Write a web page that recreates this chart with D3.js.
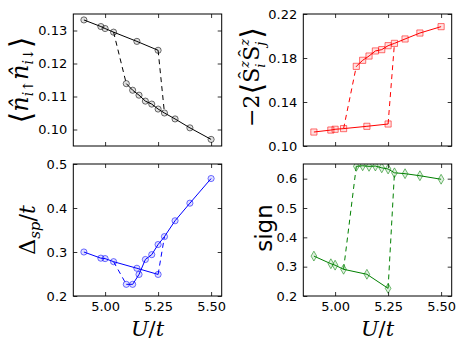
<!DOCTYPE html>
<html>
<head>
<meta charset="utf-8">
<script src="https://cdn.jsdelivr.net/npm/d3@7"></script>
<style>
  body { margin: 0; background: #fff; }
  svg { display: block; }
  .tick text { font-family: "DejaVu Sans", sans-serif; font-size: 13px; fill: #000; }
  .math { font-family: "DejaVu Serif", serif; }
</style>
</head>
<body>
<svg id="chart"></svg>
<script>
const width = 463;
const height = 349;

// U/t values: first branch (low U side) and second branch (high U side)
const uUp = [4.90, 4.98, 5.00, 5.04, 5.15, 5.25];
const uLow = [5.10, 5.13, 5.16, 5.19, 5.22, 5.25, 5.28, 5.33, 5.40, 5.50];
const xTicks = [5.00, 5.25, 5.50];

// double occupancy
const dblUp = [0.1332, 0.1312, 0.1306, 0.1295, 0.1267, 0.1240];
const dblLow = [0.1139, 0.1119, 0.1104, 0.1086, 0.1077, 0.1062, 0.1050, 0.1032, 0.1005, 0.0970];
// spin correlation
const spinUp = [0.1127, 0.1145, 0.1152, 0.1158, 0.1179, 0.1200];
const spinLow = [0.1724, 0.1779, 0.1818, 0.1864, 0.1876, 0.1912, 0.1933, 0.1973, 0.2027, 0.2085];
// single-particle gap
const gapUp = [0.300, 0.286, 0.285, 0.278, 0.263, 0.249];
const gapLow = [0.2265, 0.2265, 0.249, 0.283, 0.294, 0.317, 0.335, 0.371, 0.411, 0.467];
// average sign
const signUp = [0.336, 0.310, 0.305, 0.291, 0.274, 0.226];
const signLow = [0.642, 0.644, 0.642, 0.643, 0.637, 0.633, 0.620, 0.617, 0.610, 0.598];

const svg = d3.select("#chart").attr("width", width).attr("height", height);

const x = d3.scaleLinear().domain([4.85, 5.55]);

const panels = [
  { id: "dbl", left: 73.3, top: 14, up: dblUp, low: dblLow, color: "#000000",
    ydom: [0.095, 0.135], yticks: [0.10, 0.11, 0.12, 0.13], fmt: ".2f", marker: "circle", xlabels: false },
  { id: "spin", left: 303.3, top: 14, up: spinUp, low: spinLow, color: "#ff0000",
    ydom: [0.10, 0.22], yticks: [0.10, 0.14, 0.18, 0.22], fmt: ".2f", marker: "square", xlabels: false },
  { id: "gap", left: 73.3, top: 164, up: gapUp, low: gapLow, color: "#0000ff",
    ydom: [0.2, 0.5], yticks: [0.2, 0.3, 0.4, 0.5], fmt: ".1f", marker: "circle", xlabels: true },
  { id: "sign", left: 303.3, top: 164, up: signUp, low: signLow, color: "#008000",
    ydom: [0.2, 0.65], yticks: [0.2, 0.3, 0.4, 0.5, 0.6], fmt: ".1f", marker: "diamond", xlabels: true },
];
const pw = 148.4, ph = 132;

const symbols = {
  circle: d3.symbol().type(d3.symbolCircle).size(30),
  square: d3.symbol().type(d3.symbolSquare).size(38),
  diamond: d3.symbol().type(d3.symbolDiamond).size(28),
};

panels.forEach((p) => {
  const xs = x.copy().range([0, pw]);
  const ys = d3.scaleLinear().domain(p.ydom).range([ph, 0]);
  const g = svg.append("g").attr("transform", `translate(${p.left},${p.top})`);

  svg.append("clipPath").attr("id", "clip-" + p.id)
    .append("rect").attr("width", pw).attr("height", ph);

  const plot = g.append("g").attr("clip-path", `url(#clip-${p.id})`);
  const line = d3.line().x((d) => xs(d[0])).y((d) => ys(d[1]));
  const up = uUp.map((u, i) => [u, p.up[i]]);
  const low = uLow.map((u, i) => [u, p.low[i]]);

  // dashed jumps between branches
  const jumps = [[up[3], low[0]], [up[5], low[6]]];
  jumps.forEach((j) => {
    plot.append("path").attr("d", line(j)).attr("fill", "none")
      .attr("stroke", p.color).attr("stroke-width", 1).attr("stroke-dasharray", "5,4");
  });
  [up, low].forEach((br) => {
    plot.append("path").attr("d", line(br)).attr("fill", "none")
      .attr("stroke", p.color).attr("stroke-width", 1);
    plot.selectAll(null).data(br).enter().append("path")
      .attr("transform", (d) => `translate(${xs(d[0])},${ys(d[1])})`)
      .attr("d", symbols[p.marker])
      .attr("fill", p.color).attr("fill-opacity", 0.12)
      .attr("stroke", p.color).attr("stroke-opacity", 0.55).attr("stroke-width", 1);
  });

  // axes: ticks inward on all sides
  const tl = 4;
  const bottom = d3.axisBottom(xs).tickValues(xTicks).tickSizeInner(-tl).tickSizeOuter(0)
    .tickPadding(6).tickFormat(p.xlabels ? d3.format(".2f") : () => "");
  const top = d3.axisTop(xs).tickValues(xTicks).tickSizeInner(-tl).tickSizeOuter(0).tickFormat(() => "");
  const left = d3.axisLeft(ys).tickValues(p.yticks).tickSizeInner(-tl).tickSizeOuter(0)
    .tickPadding(6).tickFormat(d3.format(p.fmt));
  const right = d3.axisRight(ys).tickValues(p.yticks).tickSizeInner(-tl).tickSizeOuter(0).tickFormat(() => "");

  [g.append("g").attr("transform", `translate(0,${ph})`).call(bottom),
   g.append("g").call(top),
   g.append("g").call(left),
   g.append("g").attr("transform", `translate(${pw},0)`).call(right)]
    .forEach((a) => {
      a.select(".domain").remove();
      a.selectAll(".tick line").attr("stroke", "#000").attr("stroke-width", 0.8);
    });

  g.append("rect").attr("width", pw).attr("height", ph)
    .attr("fill", "none").attr("stroke", "#000").attr("stroke-width", 1);
});

// rotated math label laid out piece by piece: [text, size, shift, italic, stack]
// stack = true puts the piece under the previous one (sub under a superscript)
function mathLabel(cx, cy, pieces) {
  const g = svg.append("g").attr("transform", `translate(${cx},${cy}) rotate(-90)`);
  let pos = 0, prevStart = 0, prevEnd = 0;
  const nodes = pieces.map(([s, size, shift, italic, stack]) => {
    const t = g.append("text").attr("class", "math").attr("font-size", size)
      .attr("font-style", italic ? "italic" : "normal").attr("y", shift).text(s);
    const w = t.node().getComputedTextLength();
    let start = stack ? prevStart : pos;
    t.attr("x", start);
    const end = start + w;
    if (stack) pos = Math.max(prevEnd, end); else pos = end;
    prevStart = start; prevEnd = end;
    return t;
  });
  nodes.forEach((t) => t.attr("x", +t.attr("x") - pos / 2));
}

mathLabel(28, 80, [
  ["\u27E8", 30, 3, false],
  ["n\u0302", 24, 0, true],
  ["i\u2191", 14, 5, true],
  ["n\u0302", 24, 0, true],
  ["i\u2193", 14, 5, true],
  ["\u27E9", 30, 3, false],
]);

mathLabel(259, 77, [
  ["\u22122", 22, 0, false],
  ["\u27E8", 30, 3, false],
  ["\u015C", 22, 0, false],
  ["z", 13, -10, true],
  ["i", 13, 6, true, true],
  ["\u015C", 22, 0, false],
  ["z", 13, -10, true],
  ["j", 13, 6, true, true],
  ["\u27E9", 30, 3, false],
]);

mathLabel(35, 230, [
  ["\u0394", 22, 0, false],
  ["sp", 15, 5, true],
  ["/", 22, 0, false],
  ["t", 22, 0, true],
]);

svg.append("text").attr("transform", "translate(265,228) rotate(-90)")
  .attr("text-anchor", "middle").attr("dominant-baseline", "middle")
  .attr("font-family", "DejaVu Sans, sans-serif").attr("font-size", 23).text("sign");

// x-axis labels
[147.5, 377.5].forEach((cx) => {
  const t = svg.append("text").attr("class", "math").attr("x", cx).attr("y", 336)
    .attr("text-anchor", "middle").attr("font-size", 21);
  t.append("tspan").attr("font-style", "italic").text("U");
  t.append("tspan").text("/");
  t.append("tspan").attr("font-style", "italic").text("t");
});
</script>
</body>
</html>
